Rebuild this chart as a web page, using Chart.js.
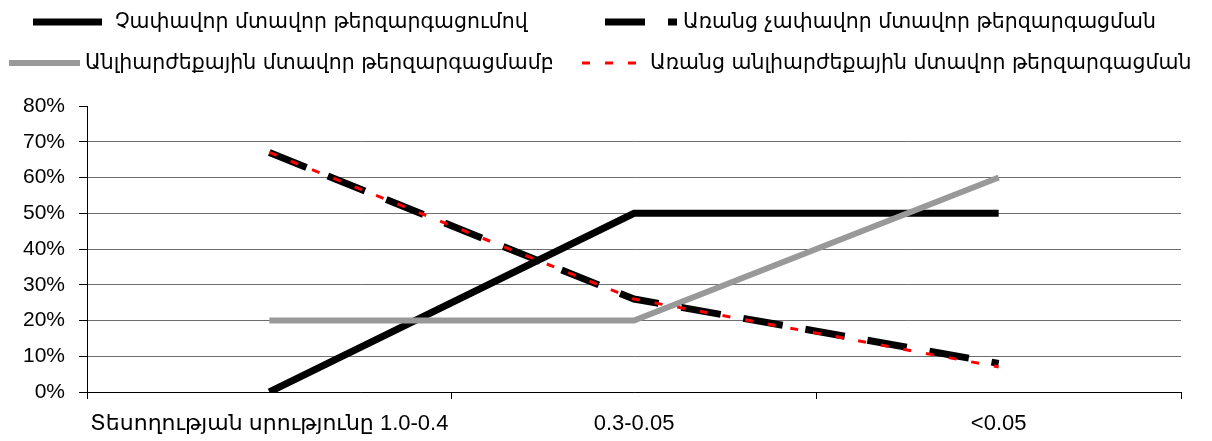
<!DOCTYPE html>
<html>
<head>
<meta charset="utf-8">
<script src="https://cdn.jsdelivr.net/npm/chart.js@4/dist/chart.umd.min.js"></script>
<style>
  html, body { margin: 0; padding: 0; background: #fff; }
  #wrap { position: relative; width: 1212px; height: 441px; }
  #legend { position: absolute; left: 0; top: 0; width: 1212px; height: 90px; }
  .muestra, .texto { position: absolute; }
  .texto { white-space: nowrap; line-height: 24px; height: 24px;
           font-family: "DejaVu Sans", "Noto Sans", sans-serif; font-size: 20.5px; color: #000; }
  .muestra svg { display: block; }
</style>
</head>
<body>
<div id="wrap">
  <canvas id="grafica" width="1212" height="441"></canvas>
  <div id="legend"></div>
</div>
<script>
// Datos
var categorias = ["Տեսողության սրությունը 1.0-0.4", "0.3-0.05", "<0.05"];
var nombres = [
    "Չափավոր մտավոր թերզարգացումով",
    "Առանց չափավոր մտավոր թերզարգացման",
    "Անլիարժեքային մտավոր թերզարգացմամբ",
    "Առանց անլիարժեքային մտավոր թերզարգացման"
];
var chafavor = [0, 50, 50];
var arantsChafavor = [67, 26, 8];
var anliarzheq = [20, 20, 60];
var arantsAnliarzheq = [67, 26, 7];
var ticksY = [0, 10, 20, 30, 40, 50, 60, 70, 80];

var fuente = '"Liberation Sans", Arial, "DejaVu Sans", sans-serif';

var estilos = [
    { color: '#000000', ancho: 7, dash: [], orden: 3 },
    { color: '#000000', ancho: 7, dash: [40, 23], orden: 1 },
    { color: '#999999', ancho: 6, dash: [], orden: 2 },
    { color: '#ff0000', ancho: 3, dash: [8, 15], orden: 0 }
];
var series = [chafavor, arantsChafavor, anliarzheq, arantsAnliarzheq];

var chartDataSet = [];
for (var i = 0; i < series.length; i++) {
    chartDataSet.push({
        label: nombres[i],
        data: series[i],
        borderColor: estilos[i].color,
        backgroundColor: estilos[i].color,
        borderWidth: estilos[i].ancho,
        borderDash: estilos[i].dash,
        order: estilos[i].orden,
        pointRadius: 0,
        pointHoverRadius: 0,
        tension: 0,
        fill: false
    });
}

// Leyenda (2 x 2, como la original)
var posLeyenda = [
    { x: 33, w: 69, tx: 115, y: 10 },
    { x: 605, w: 72, tx: 683, y: 10 },
    { x: 9, w: 71, tx: 85, y: 51 },
    { x: 582, w: 58, tx: 650, y: 51 }
];
var leyenda = document.getElementById('legend');
for (var j = 0; j < nombres.length; j++) {
    var p = posLeyenda[j];
    var m = document.createElement('div');
    m.className = 'muestra';
    m.style.left = p.x + 'px';
    m.style.top = p.y + 'px';
    m.innerHTML = '<svg width="' + p.w + '" height="24"><line x1="0" y1="12" x2="' + p.w + '" y2="12" stroke="' +
        estilos[j].color + '" stroke-width="' + estilos[j].ancho + '"' +
        (estilos[j].dash.length ? ' stroke-dasharray="' + estilos[j].dash.join(',') + '"' : '') + '/></svg>';
    leyenda.appendChild(m);
    var t = document.createElement('div');
    t.className = 'texto';
    t.style.left = p.tx + 'px';
    t.style.top = (p.y - 1) + 'px';
    t.textContent = nombres[j];
    leyenda.appendChild(t);
}

var ctx = document.getElementById('grafica');
window.myLine = new Chart(ctx, {
    type: 'line',
    data: { labels: categorias, datasets: chartDataSet },
    options: {
        responsive: false,
        animation: false,
        layout: { padding: { top: 106, right: 31, bottom: 0, left: 9 } },
        plugins: {
            legend: { display: false },
            title: { display: false },
            tooltip: { enabled: false }
        },
        scales: {
            x: {
                offset: true,
                afterFit: function (scale) { scale.height = 49; },
                grid: { offset: true, drawOnChartArea: false, color: '#000', tickLength: 7 },
                border: { color: '#000', width: 1 },
                ticks: { color: '#000', font: { family: fuente, size: 22 }, padding: 12,
                         maxRotation: 0, autoSkip: false }
            },
            y: {
                min: 0,
                max: 80,
                afterBuildTicks: function (scale) {
                    scale.ticks = ticksY.map(function (v) { return { value: v }; });
                },
                grid: {
                    color: function (c) { return c.tick && c.tick.value === 80 ? 'rgba(0,0,0,0)' : '#6e6e6e'; },
                    tickColor: '#000',
                    tickLength: 8
                },
                border: { color: '#000', width: 1 },
                ticks: {
                    color: '#000',
                    font: { family: fuente, size: 21 },
                    padding: 14,
                    callback: function (v) { return v + '%'; }
                }
            }
        }
    }
});
</script>
</body>
</html>
